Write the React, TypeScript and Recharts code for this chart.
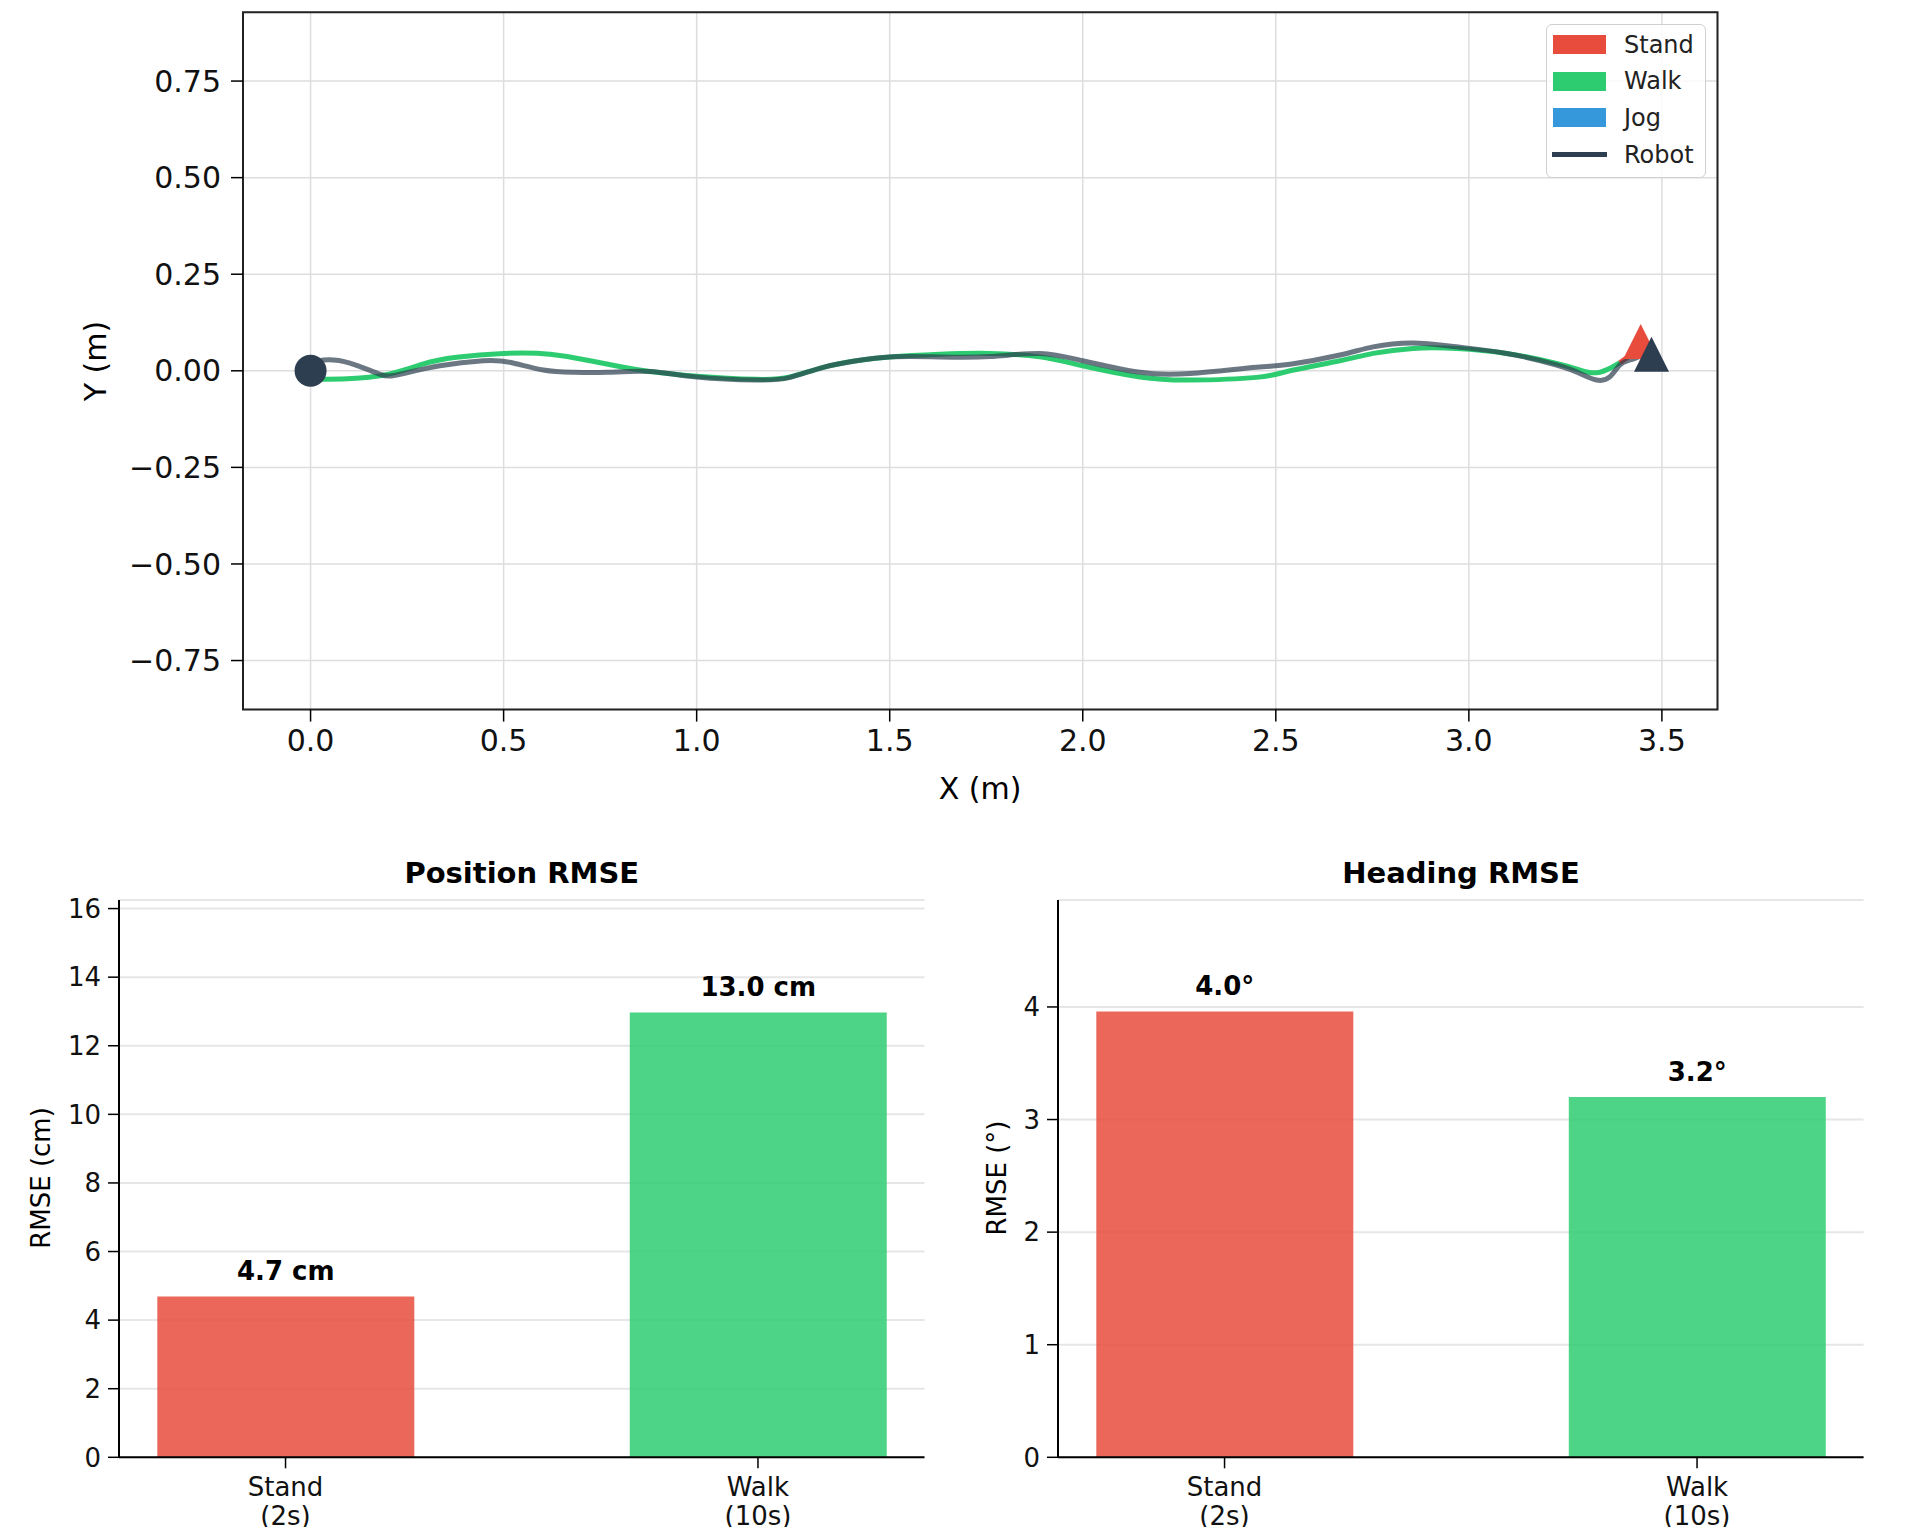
import React from "react";
import {
  ComposedChart,
  Line,
  Scatter,
  XAxis,
  YAxis,
  CartesianGrid,
  ReferenceArea,
  BarChart,
  Bar,
  Cell,
  LabelList,
} from "recharts";

const FONT = '"DejaVu Sans", "Liberation Sans", sans-serif';

// Reference path (Walk phase), metres
const refX = [0.0, 0.042, 0.18, 0.29, 0.378, 0.5, 0.62, 0.724, 0.81, 0.879, 1.0, 1.155, 1.242, 1.328, 1.414, 1.5, 1.63, 1.76, 1.889, 2.0, 2.148, 2.278, 2.45, 2.537, 2.666, 2.752, 2.855, 2.968, 3.098, 3.227, 3.288, 3.331, 3.372, 3.391];
const refY = [-0.02, -0.022, -0.013, 0.017, 0.035, 0.045, 0.043, 0.026, 0.009, -0.002, -0.014, -0.022, -0.016, 0.009, 0.026, 0.036, 0.043, 0.045, 0.036, 0.013, -0.016, -0.024, -0.017, 0.0, 0.026, 0.045, 0.058, 0.058, 0.045, 0.019, 0.002, -0.005, 0.01, 0.021];

// Final stand segment of the reference path
const standX = [3.391, 3.425];
const standY = [0.021, 0.045];

// Robot trajectory, metres
const robotX = [0.0, 0.033, 0.102, 0.18, 0.232, 0.335, 0.447, 0.516, 0.603, 0.68, 0.767, 0.879, 1.0, 1.155, 1.242, 1.328, 1.414, 1.5, 1.63, 1.76, 1.889, 2.0, 2.148, 2.278, 2.45, 2.537, 2.666, 2.752, 2.855, 2.968, 3.098, 3.227, 3.288, 3.331, 3.365, 3.391, 3.417, 3.45];
const robotY = [0.015, 0.028, 0.02, -0.009, -0.009, 0.013, 0.026, 0.022, 0.002, -0.004, -0.004, -0.002, -0.016, -0.024, -0.017, 0.009, 0.026, 0.036, 0.036, 0.037, 0.045, 0.026, -0.004, -0.007, 0.009, 0.017, 0.041, 0.062, 0.072, 0.062, 0.045, 0.015, -0.007, -0.024, -0.016, 0.015, 0.028, 0.04];

const startPoint = [{ x: 0, y: 0 }];
const refEnd = [{ x: 3.445, y: 0.076 }];
const robotEnd = [{ x: 3.473, y: 0.043 }];

const xTicks = [0, 0.5, 1, 1.5, 2, 2.5, 3, 3.5];
const yTicks = [-0.75, -0.5, -0.25, 0, 0.25, 0.5, 0.75];
const X_DOMAIN: [number, number] = [-0.175, 3.644];
const Y_DOMAIN: [number, number] = [-0.877, 0.928];

// RMSE bars
const categories = ["Stand", "Walk"];
const durations = ["(2s)", "(10s)"];
const positionRmse = [4.69, 12.97];
const headingRmse = [3.96, 3.2];
const positionTicks = [0, 2, 4, 6, 8, 10, 12, 14, 16];
const headingTicks = [0, 1, 2, 3, 4];
const barColors = ["#e74c3c", "#2ecc71"];

const legendItems = [
  { label: "Stand", color: "#e74c3c", kind: "patch" },
  { label: "Walk", color: "#2ecc71", kind: "patch" },
  { label: "Jog", color: "#3498db", kind: "patch" },
  { label: "Robot", color: "#2c3e50", kind: "line" },
];

const zip = (xs: number[], ys: number[]) => xs.map((x, i) => ({ x, y: ys[i] }));

const fmtSigned = (v: number, digits: number) => v.toFixed(digits).replace("-", "\u2212");

const Triangle = (color: string) => (props: any) => {
  const { cx, cy } = props;
  const h = 17.5;
  return (
    <polygon
      points={`${cx},${cy - h} ${cx - h},${cy + h} ${cx + h},${cy + h}`}
      fill={color}
    />
  );
};

const StartDot = (props: any) => <circle cx={props.cx} cy={props.cy} r={16} fill="#2c3e50" />;

function AxisText({ x, y, text, size, rotate, bold }: any) {
  return (
    <div
      style={{
        position: "absolute",
        left: x,
        top: y,
        transform: `translate(-50%, -50%)${rotate ? " rotate(-90deg)" : ""}`,
        fontSize: size,
        fontWeight: bold ? "bold" : "normal",
        whiteSpace: "nowrap",
        color: "#000",
      }}
    >
      {text}
    </div>
  );
}

function TrajectoryLegend() {
  return (
    <div
      style={{
        position: "absolute",
        left: 1546,
        top: 24,
        width: 160,
        height: 154,
        border: "1.5px solid #d0d0d0",
        borderRadius: 6,
        background: "rgba(255,255,255,0.85)",
        boxSizing: "border-box",
      }}
    >
      {legendItems.map((item, i) => (
        <div
          key={item.label}
          style={{ position: "absolute", left: 0, top: 1 + i * 36.7, height: 37, display: "flex", alignItems: "center" }}
        >
          {item.kind === "patch" ? (
            <div style={{ marginLeft: 6, width: 53, height: 19, background: item.color }} />
          ) : (
            <div style={{ marginLeft: 5, width: 55, height: 5, background: item.color }} />
          )}
          <span style={{ marginLeft: item.kind === "patch" ? 18 : 17, fontSize: 24, color: "#222" }}>{item.label}</span>
        </div>
      ))}
    </div>
  );
}

function TrajectoryChart() {
  return (
    <ComposedChart width={1925} height={830} margin={{ top: 12.3, right: 207.5, bottom: 20.4, left: 143 }}>
      <CartesianGrid stroke="#dddddd" strokeWidth={1.5} />
      <XAxis
        type="number"
        dataKey="x"
        domain={X_DOMAIN}
        ticks={xTicks}
        allowDataOverflow
        height={100}
        axisLine={false}
        tickSize={12}
        tickMargin={8}
        tickLine={{ stroke: "#000", strokeWidth: 1.5 }}
        tick={{ fontSize: 30, fill: "#111" }}
        tickFormatter={(v: number) => v.toFixed(1)}
      />
      <YAxis
        type="number"
        dataKey="y"
        domain={Y_DOMAIN}
        ticks={yTicks}
        allowDataOverflow
        width={100}
        axisLine={false}
        tickSize={12}
        tickMargin={10}
        tickLine={{ stroke: "#000", strokeWidth: 1.5 }}
        tick={{ fontSize: 30, fill: "#111" }}
        tickFormatter={(v: number) => fmtSigned(v, 2)}
      />
      <Line data={zip(refX, refY)} dataKey="y" type="natural" stroke="#2ecc71" strokeWidth={5} dot={false} isAnimationActive={false} />
      <Line data={zip(standX, standY)} dataKey="y" type="natural" stroke="#e74c3c" strokeWidth={5} dot={false} isAnimationActive={false} />
      <Line
        data={zip(robotX, robotY)}
        dataKey="y"
        type="natural"
        stroke="#2c3e50"
        strokeOpacity={0.7}
        strokeWidth={5}
        dot={false}
        isAnimationActive={false}
      />
      <Scatter data={refEnd} dataKey="y" shape={Triangle("#e74c3c")} isAnimationActive={false} />
      <Scatter data={robotEnd} dataKey="y" shape={Triangle("#2c3e50")} isAnimationActive={false} />
      <Scatter data={startPoint} dataKey="y" shape={StartDot} isAnimationActive={false} />
      <ReferenceArea
        x1={X_DOMAIN[0]}
        x2={X_DOMAIN[1]}
        y1={Y_DOMAIN[0]}
        y2={Y_DOMAIN[1]}
        fill="none"
        stroke="#222"
        strokeWidth={2}
        ifOverflow="visible"
      />
    </ComposedChart>
  );
}

const CategoryTick = (props: any) => {
  const { x, y, payload } = props;
  const i = Math.round(payload.value);
  return (
    <text x={x} y={y} textAnchor="middle" fontSize={26} fill="#111">
      <tspan x={x} dy={26}>{categories[i]}</tspan>
      <tspan x={x} dy={29}>{durations[i]}</tspan>
    </text>
  );
};

function RmseBars({ values, ticks, top, suffix, width, margin }: any) {
  const data = categories.map((c, i) => ({ pos: i, name: c, value: values[i] }));
  return (
    <BarChart width={width} height={687} data={data} margin={margin}>
      <CartesianGrid vertical={false} stroke="#e6e6e6" strokeWidth={2} />
      <XAxis
        type="number"
        dataKey="pos"
        domain={[-0.3525, 1.3525]}
        ticks={[0, 1]}
        allowDataOverflow
        height={60}
        tickSize={11}
        axisLine={{ stroke: "#000", strokeWidth: 2 }}
        tickLine={{ stroke: "#000", strokeWidth: 1.5 }}
        tick={<CategoryTick />}
      />
      <YAxis
        type="number"
        domain={[0, top]}
        ticks={ticks}
        allowDataOverflow
        width={60}
        tickSize={11}
        tickMargin={7}
        axisLine={{ stroke: "#000", strokeWidth: 2 }}
        tickLine={{ stroke: "#000", strokeWidth: 1.5 }}
        tick={{ fontSize: 26, fill: "#111" }}
      />
      <Bar dataKey="value" barSize={257} fillOpacity={0.85} isAnimationActive={false}>
        {data.map((d, i) => (
          <Cell key={d.name} fill={barColors[i]} />
        ))}
        <LabelList
          dataKey="value"
          content={(p: any) => (
            <text x={p.x + p.width / 2} y={p.y - 16} textAnchor="middle" fontSize={26} fontWeight="bold" fill="#000">
              {`${Number(p.value).toFixed(1)}${suffix}`}
            </text>
          )}
        />
      </Bar>
    </BarChart>
  );
}

export default function App() {
  return (
    <div
      style={{
        position: "absolute",
        left: 0,
        top: 0,
        width: 1925,
        height: 1527,
        background: "#fff",
        overflow: "hidden",
        fontFamily: FONT,
      }}
    >
      <div style={{ position: "absolute", left: 0, top: 0 }}>
        <TrajectoryChart />
      </div>
      <TrajectoryLegend />
      <AxisText x={94.5} y={361} text="Y (m)" size={30} rotate />
      <AxisText x={980} y={788} text="X (m)" size={30} />

      <div style={{ position: "absolute", left: 0, top: 840 }}>
        <RmseBars
          values={positionRmse}
          ticks={positionTicks}
          top={16.25}
          suffix=" cm"
          width={960}
          margin={{ top: 60, right: 35.5, bottom: 9.7, left: 59 }}
        />
      </div>
      <div style={{ position: "absolute", left: 960, top: 840 }}>
        <RmseBars
          values={headingRmse}
          ticks={headingTicks}
          top={4.95}
          suffix="°"
          width={965}
          margin={{ top: 60, right: 61.4, bottom: 9.7, left: 38 }}
        />
      </div>
      <AxisText x={521.8} y={873} text="Position RMSE" size={29} bold />
      <AxisText x={1461} y={873} text="Heading RMSE" size={29} bold />
      <AxisText x={40.5} y={1178} text="RMSE (cm)" size={26} rotate />
      <AxisText x={997} y={1178} text="RMSE (°)" size={26} rotate />
    </div>
  );
}
